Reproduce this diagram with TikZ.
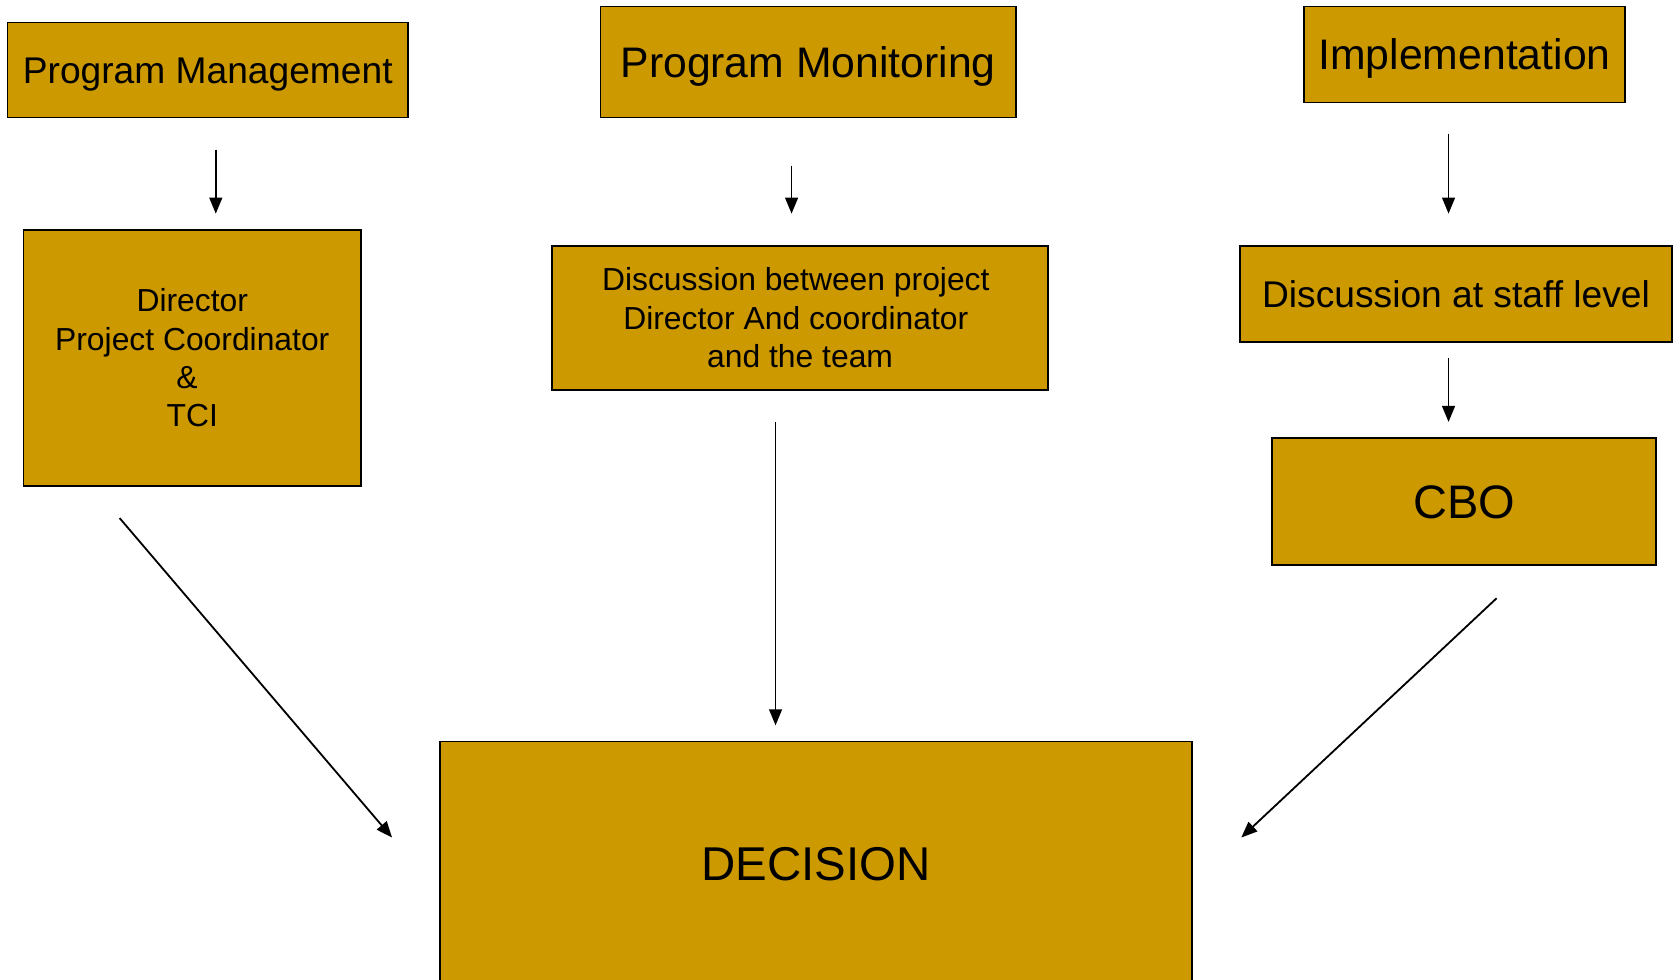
\documentclass[tikz,border=0pt]{standalone}
\usepackage{fontspec}
\setmainfont{Liberation Sans}
\usetikzlibrary{arrows.meta}
\definecolor{boxgold}{HTML}{CC9900}
\newcommand{\fs}[2]{\fontsize{#1}{#2}\selectfont}
\tikzset{
  bx/.style n args={2}{draw=black, line width=0.8pt, fill=boxgold, inner sep=0pt,
    minimum width=#1*0.5pt, minimum height=#2*0.5pt, align=center, anchor=center},
  one/.style={text height=#1, text depth=0pt},
  arr/.style={draw=black, line width=0.85pt, -{Triangle[length=7.5pt,width=6pt]}},
}
\begin{document}
\begin{tikzpicture}[x=0.5pt,y=-0.5pt]
\useasboundingbox (0,0) rectangle (1568,917);
% boxes
\node[bx={375}{89}, one=12.46pt, font=\fs{17.4}{21}]  (pm)    at (194.5,65.5) {Program Management};
\node[bx={389}{104}, one=14.3pt, font=\fs{20}{24}]    (pmon)  at (756.5,58)   {Program Monitoring};
\node[bx={300}{90}, one=14.3pt, font=\fs{20}{24}]     (impl)  at (1371,51)    {Implementation};
\node[bx={316}{240}, font=\fs{14.9}{18}]              (dir)   at (180,335)    {Director\\Project Coordinator\\\hspace*{-5pt}\&\\TCI};
\node[bx={464}{135}, font=\fs{14.9}{18}]              (disc)  at (749,297.5)  {\hspace*{-4pt}Discussion between project\\\hspace*{-4pt}Director And coordinator\\and the team};
\node[bx={404}{90}, one=12.46pt, font=\fs{17.4}{21}]  (staff) at (1363,275)   {Discussion at staff level};
\node[bx={359}{119}, one=15.75pt, font=\fs{22}{26}]   (cbo)   at (1370.5,469.5) {CBO};
\node[bx={704}{228}, one=15.9pt, font=\fs{22.2}{26}]  (dec)   at (764,808)    {DECISION};
% connector end points
\coordinate (pmA) at (202,140);   \coordinate (dirA) at (202,200);
\coordinate (pmonA) at (741,155); \coordinate (discA) at (741,200);
\coordinate (implA) at (1356,125); \coordinate (staffA) at (1356,200);
\coordinate (staffB) at (1356,335); \coordinate (cboA) at (1356,395);
\coordinate (dirB) at (112,485);  \coordinate (decL) at (367,784);
\coordinate (discB) at (726,395); \coordinate (decT) at (726,679);
\coordinate (cboB) at (1401,560); \coordinate (decR) at (1162,784);
% connectors
\draw[arr] (pmA) -- (dirA);
\draw[arr] (pmonA) -- (discA);
\draw[arr] (implA) -- (staffA);
\draw[arr] (staffB) -- (cboA);
\draw[arr] (dirB) -- (decL);
\draw[arr] (discB) -- (decT);
\draw[arr] (cboB) -- (decR);
\end{tikzpicture}
\end{document}
